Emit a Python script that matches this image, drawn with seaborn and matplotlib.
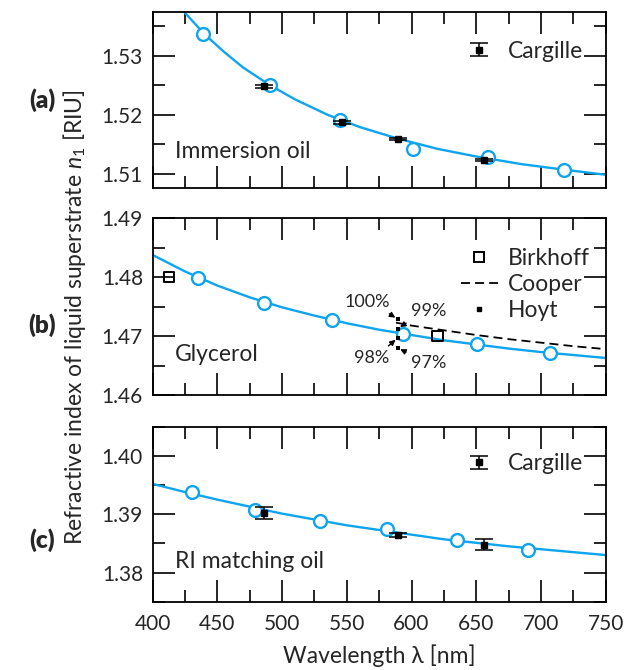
import matplotlib
matplotlib.use('Agg')
import matplotlib.pyplot as plt
import seaborn as sns
from matplotlib.ticker import MultipleLocator, FormatStrFormatter
from matplotlib.lines import Line2D
from matplotlib.container import ErrorbarContainer
from matplotlib.legend_handler import HandlerErrorbar

# ---------------- data ----------------
# (a) immersion oil
oil_wl = [439.1, 490.6, 544.7, 601.4, 659.4, 718.1]
oil_n = [1.5337, 1.5250, 1.5191, 1.5141, 1.5128, 1.5106]
oil_fit_wl = [410, 425, 440, 455, 470, 490, 510, 535, 560, 590, 620, 650, 685, 720, 750]
oil_fit_n = [1.5414, 1.5373, 1.5337, 1.5307, 1.5280, 1.5251, 1.5226, 1.5200,
             1.5179, 1.5159, 1.5142, 1.5129, 1.5116, 1.5106, 1.5098]
carg_a_wl = [486.1, 546.1, 589.3, 656.3]
carg_a_n = [1.5248, 1.5187, 1.5159, 1.5123]
carg_a_err = [0.0002, 0.0002, 0.0002, 0.0002]

# (b) glycerol
gly_wl = [435.3, 486.0, 538.3, 593.7, 650.4, 707.0]
gly_n = [1.4799, 1.4756, 1.4728, 1.4703, 1.4687, 1.4671]
gly_fit_wl = [400, 425, 450, 475, 500, 525, 550, 575, 600, 625, 650, 675, 700, 725, 750]
gly_fit_n = [1.4838, 1.4810, 1.4786, 1.4766, 1.4749, 1.4735, 1.4722, 1.4711,
             1.4702, 1.4693, 1.4686, 1.4679, 1.4673, 1.4668, 1.4663]
birk_wl = [412.8, 620.0]
birk_n = [1.4800, 1.4700]
coop_wl = [588, 600, 625, 650, 675, 700, 725, 750]
coop_n = [1.4723, 1.4718, 1.4710, 1.4702, 1.4695, 1.4689, 1.4683, 1.4678]
hoyt_wl = [589.3, 589.3, 589.3, 589.3]
hoyt_n = [1.4729, 1.4713, 1.4697, 1.4680]
hoyt_labels = ['100%', '99%', '98%', '97%']

# (c) RI matching oil
rim_wl = [430.1, 479.1, 529.3, 581.3, 635.4, 690.3]
rim_n = [1.3938, 1.3908, 1.3889, 1.3875, 1.3855, 1.3838]
rim_fit_wl = [400, 425, 450, 475, 500, 525, 550, 575, 600, 625, 650, 675, 700, 725, 750]
rim_fit_n = [1.3952, 1.3938, 1.3925, 1.3913, 1.3901, 1.3891, 1.3881, 1.3873,
             1.3865, 1.3857, 1.3851, 1.3845, 1.3840, 1.3835, 1.3830]
carg_c_wl = [486.1, 589.3, 656.3]
carg_c_n = [1.3902, 1.3864, 1.3848]
carg_c_err = [0.0010, 0.0003, 0.0010]

x_ticks = [400, 450, 500, 550, 600, 650, 700, 750]

# ---------------- style ----------------
sns.set_theme(style='ticks')
plt.rcParams['font.family'] = ['Lato', 'DejaVu Sans']
plt.rcParams['mathtext.fontset'] = 'custom'
plt.rcParams['mathtext.rm'] = 'Lato'
plt.rcParams['mathtext.it'] = 'Lato:italic'
plt.rcParams['axes.linewidth'] = 1.3

BLUE = '#0ea4ee'
FS = 16.5      # labels / legend text
TFS = 15       # tick labels
DASH = (0, (5, 2.8))

fig = plt.figure(figsize=(6.34, 6.70), dpi=100)
L, W = 0.2408, 0.7145
ax_a = fig.add_axes([L, 0.7190, W, 0.2635])
ax_b = fig.add_axes([L, 0.4104, W, 0.2635])
ax_c = fig.add_axes([L, 0.1019, W, 0.2612])

EB_HANDLER = {ErrorbarContainer: HandlerErrorbar(yerr_size=0.27)}


def style_axes(ax, ylim, bottom_labels):
    ax.set_xlim(400, 750)
    ax.set_ylim(*ylim)
    ax.xaxis.set_major_locator(MultipleLocator(50))
    ax.xaxis.set_minor_locator(MultipleLocator(25))
    ax.yaxis.set_major_locator(MultipleLocator(0.01))
    ax.yaxis.set_minor_locator(MultipleLocator(0.005))
    ax.yaxis.set_major_formatter(FormatStrFormatter('%.2f'))
    ax.tick_params(which='both', direction='in', top=True, right=True,
                   width=1.2, color='black', labelsize=TFS)
    ax.tick_params(which='major', length=16)
    ax.tick_params(which='minor', length=8.5)
    ax.tick_params(axis='y', pad=7)
    ax.tick_params(axis='x', pad=9, labelbottom=bottom_labels)
    ax.set_xlabel('')
    ax.set_ylabel('')
    for s in ax.spines.values():
        s.set_color('black')
        s.set_linewidth(1.3)


def blue_set(ax, fwl, fn, wl, n):
    sns.lineplot(x=fwl, y=fn, ax=ax, color=BLUE, lw=1.7, sort=False,
                 estimator=None, zorder=2)
    sns.scatterplot(x=wl, y=n, ax=ax, marker='o', s=85, facecolor='white',
                    edgecolor=BLUE, linewidth=1.7, zorder=3)


def cargille(ax, wl, n, err):
    return ax.errorbar(wl, n, yerr=err, fmt='s', color='black', ms=4.5,
                       capsize=6.5, capthick=1.1, elinewidth=1.1, zorder=5)


# (a)
blue_set(ax_a, oil_fit_wl, oil_fit_n, oil_wl, oil_n)
eb_a = cargille(ax_a, carg_a_wl, carg_a_n, carg_a_err)
style_axes(ax_a, (1.5075, 1.5375), False)
ax_a.legend([eb_a], ['Cargille'], loc='center left', bbox_to_anchor=(0.681, 0.777),
            frameon=False, fontsize=FS, handlelength=1.6, handletextpad=0.45,
            borderpad=0, borderaxespad=0, handler_map=EB_HANDLER)
ax_a.text(0.049, 0.170, 'Immersion oil', transform=ax_a.transAxes, fontsize=FS,
          va='baseline', ha='left')

# (b)
blue_set(ax_b, gly_fit_wl, gly_fit_n, gly_wl, gly_n)
sns.lineplot(x=coop_wl, y=coop_n, ax=ax_b, color='black', lw=1.3, sort=False,
             estimator=None, linestyle=DASH, zorder=2.5)
sns.scatterplot(x=birk_wl, y=birk_n, ax=ax_b, marker='s', s=55, facecolor='none',
                edgecolor='black', linewidth=1.4, zorder=4)
sns.scatterplot(x=hoyt_wl, y=hoyt_n, ax=ax_b, marker='s', s=11, color='black',
                linewidth=0, zorder=6)
style_axes(ax_b, (1.46, 1.49), False)

ann = {  # label: (dx pt, dy pt, relpos)
    '100%': (-22, 12.5, (0.85, 0.0)),
    '99%': (22, 12.5, (0.05, 0.0)),
    '98%': (-19, -14.5, (0.85, 1.0)),
    '97%': (22, -11, (0.05, 1.0)),
}
for wl, n, lab in zip(hoyt_wl, hoyt_n, hoyt_labels):
    dx, dy, rp = ann[lab]
    ax_b.annotate(lab, xy=(wl, n), xytext=(dx, dy), textcoords='offset points',
                  ha='center', va='center', fontsize=13,
                  arrowprops=dict(arrowstyle='-|>', color='black', lw=1.0,
                                  mutation_scale=8, shrinkA=1, shrinkB=2,
                                  relpos=rp))

h_birk = Line2D([], [], marker='s', ls='none', mfc='none', mec='black', ms=7.5, mew=1.4)
h_coop = Line2D([], [], color='black', lw=1.3, ls=DASH)
h_hoyt = Line2D([], [], marker='s', ls='none', color='black', ms=3.3)
ax_b.legend([h_birk, h_coop, h_hoyt], ['Birkhoff', 'Cooper', 'Hoyt'],
            loc='center left', bbox_to_anchor=(0.681, 0.627), frameon=False,
            fontsize=FS, handlelength=1.6, handletextpad=0.45, borderpad=0,
            borderaxespad=0, labelspacing=0.22)
ax_b.text(0.049, 0.194, 'Glycerol', transform=ax_b.transAxes, fontsize=FS,
          va='baseline', ha='left')

# (c)
blue_set(ax_c, rim_fit_wl, rim_fit_n, rim_wl, rim_n)
eb_c = cargille(ax_c, carg_c_wl, carg_c_n, carg_c_err)
style_axes(ax_c, (1.375, 1.405), True)
ax_c.set_xticks(x_ticks)
ax_c.legend([eb_c], ['Cargille'], loc='center left', bbox_to_anchor=(0.681, 0.787),
            frameon=False, fontsize=FS, handlelength=1.6, handletextpad=0.45,
            borderpad=0, borderaxespad=0, handler_map=EB_HANDLER)
ax_c.text(0.049, 0.190, 'RI matching oil', transform=ax_c.transAxes, fontsize=FS,
          va='baseline', ha='left')
ax_c.set_xlabel('Wavelength λ [nm]', fontsize=FS, labelpad=7)

# labels outside the axes
fig.text(75 / 634, 1 - 317 / 670, r'Refractive index of liquid superstrate $n_1$ [RIU]',
         rotation=90, ha='center', va='center', fontsize=FS)
for lab, yy in [('(a)', 100), ('(b)', 325), ('(c)', 540)]:
    fig.text(42 / 634, 1 - yy / 670, lab, ha='center', va='center',
             fontsize=17.5, fontweight='heavy')

fig.savefig('out.png', dpi=100)
